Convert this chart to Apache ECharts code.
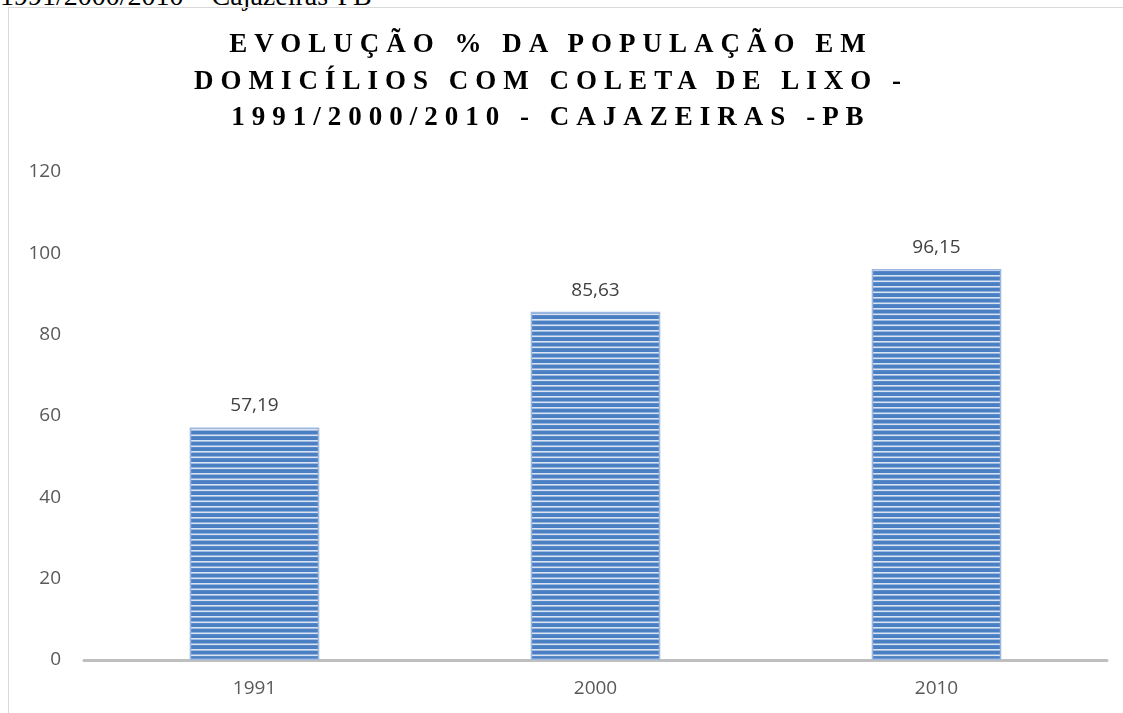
<!DOCTYPE html>
<html>
<head>
<meta charset="utf-8">
<script src="https://cdn.jsdelivr.net/npm/echarts@6/dist/echarts.min.js"></script>
<style>
  html, body { margin: 0; padding: 0; background: #fff; overflow: hidden; }
  #wrap { position: relative; width: 1123px; height: 713px; overflow: hidden; }
  #caption { position: absolute; left: 0; top: -18.5px; font-family: "Liberation Serif", "DejaVu Serif", serif; font-size: 28px; line-height: 28px; color: #000; white-space: nowrap; }
  #frame { position: absolute; left: 8px; top: 7px; width: 1130px; height: 720px; border: 1px solid #d9d9d9; box-sizing: border-box; }
  #chart { position: absolute; left: 0; top: 0; width: 1123px; height: 713px; }
  #title { position: absolute; left: 0; top: 25px; width: 1102px; text-align: center; font-family: "Liberation Serif", "DejaVu Serif", serif; font-weight: bold; font-size: 27px; line-height: 36.5px; letter-spacing: 7px; color: #000; }
</style>
</head>
<body>
<div id="wrap">
  <div id="caption">1991/2000/2010 – Cajazeiras-PB</div>
  <div id="frame"></div>
  <div id="chart"></div>
  <div id="title">EVOLUÇÃO % DA POPULAÇÃO EM<br>DOMICÍLIOS COM COLETA DE LIXO -<br>1991/2000/2010 - CAJAZEIRAS -PB</div>
</div>
<script>
const categories = ['1991', '2000', '2010'];
const values = [57.19, 85.63, 96.15];
const yTicks = { min: 0, max: 120, interval: 20 };

// striped fill for the bars: two blue bands separated by thin light lines
function stripePattern() {
  const c = document.createElement('canvas');
  c.width = 8; c.height = 11;
  const ctx = c.getContext('2d');
  ctx.fillStyle = '#4a7fc4';
  ctx.fillRect(0, 0, 8, 11);
  ctx.fillStyle = '#d9e3f2';
  ctx.fillRect(0, 0, 8, 1.6);
  ctx.fillRect(0, 5.5, 8, 1.6);
  return c;
}

const labelFont = 'Open Sans, sans-serif';
const chart = echarts.init(document.getElementById('chart'));
chart.setOption({
  animation: false,
  grid: { left: 84, right: 16, top: 172, bottom: 53 },
  xAxis: {
    type: 'category',
    data: categories,
    axisLine: { lineStyle: { color: '#bfbfbf', width: 3 } },
    axisTick: { show: false },
    axisLabel: { color: '#595959', fontSize: 19, fontFamily: labelFont, margin: 19 }
  },
  yAxis: {
    type: 'value',
    min: yTicks.min, max: yTicks.max, interval: yTicks.interval,
    splitLine: { show: false },
    axisLine: { show: false },
    axisTick: { show: false },
    axisLabel: { color: '#595959', fontSize: 19, fontFamily: labelFont, margin: 23 }
  },
  series: [{
    type: 'bar',
    data: values,
    barWidth: '38%',
    itemStyle: {
      color: { image: stripePattern(), repeat: 'repeat' },
      borderColor: '#9db8e0',
      borderWidth: 1.5
    },
    label: {
      show: true,
      position: 'top',
      distance: 12,
      color: '#404040',
      fontSize: 19,
      fontFamily: labelFont,
      formatter: p => p.value.toFixed(2).replace('.', ',')
    }
  }]
});
</script>
</body>
</html>
